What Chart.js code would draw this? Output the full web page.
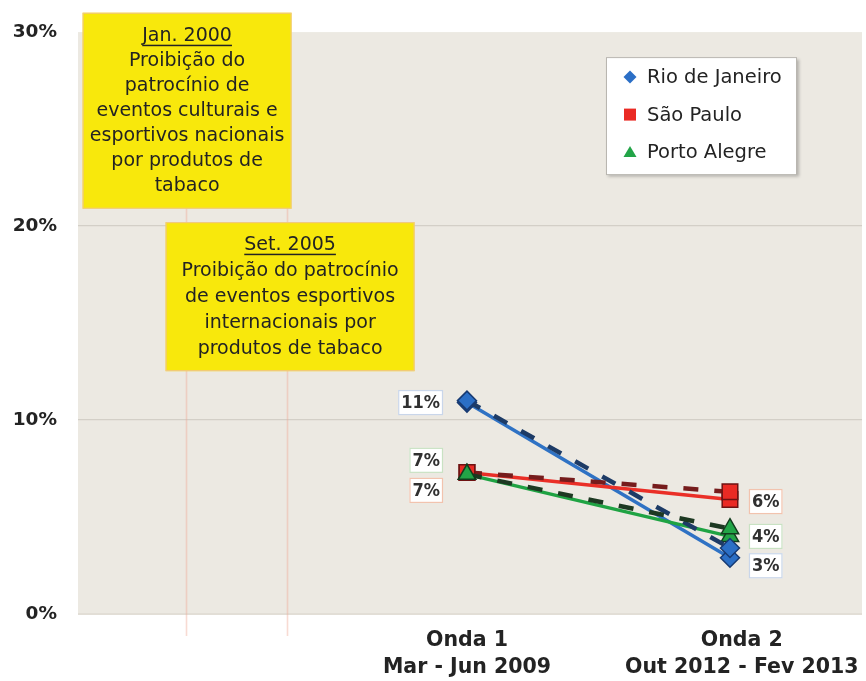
<!DOCTYPE html>
<html>
<head>
<meta charset="utf-8">
<script src="https://cdn.jsdelivr.net/npm/chart.js@4/dist/chart.umd.min.js"></script>
<style>
  html, body { margin: 0; padding: 0; background: #ffffff; }
  #wrap { width: 866px; height: 681px; position: relative; }
</style>
</head>
<body>
<div id="wrap"><canvas id="c"></canvas></div>
<script>
// ---- data ----
const waves = [['Onda 1', 'Mar - Jun 2009'], ['Onda 2', 'Out 2012 - Fev 2013']];
const cities = ['Rio de Janeiro', 'São Paulo', 'Porto Alegre'];
const rioValues = [10.9, 2.9];
const spValues = [7.3, 5.9];
const paValues = [7.2, 4.0];
const rioTrend = [11.0, 3.4];
const spTrend = [7.3, 6.3];
const paTrend = [7.2, 4.4];
const yTicks = [0, 10, 20, 30];
const event1Title = 'Jan. 2000';
const event1Text = ['Proibição do', 'patrocínio de', 'eventos culturais e', 'esportivos nacionais', 'por produtos de', 'tabaco'];
const event2Title = 'Set. 2005';
const event2Text = ['Proibição do patrocínio', 'de eventos esportivos', 'internacionais por', 'produtos de tabaco'];

// ---- look ----
const FONT = '"DejaVu Sans", Verdana, sans-serif';
const FONT_NARROW = '"DejaVu Sans Condensed", "DejaVu Sans", sans-serif';
const INK = '#232323';
const palette = {
  rio: { line: '#2f72c4', fill: '#2b6fc6', edge: '#173a72', dash: '#1d3b66', tag: '#c9d6ea' },
  sp:  { line: '#ea2f27', fill: '#ea2a24', edge: '#6e1212', dash: '#761c1c', tag: '#f2c3ae' },
  pa:  { line: '#1fa343', fill: '#22a447', edge: '#123d1e', dash: '#1d3922', tag: '#c9e2c3' }
};

// wave positions on the horizontal value axis
const waveX = [1, 2];
const waveLabelX = [1, 2.045];
const X_MIN = -0.479, X_MAX = 2.502;

// timeline notes: axis position, box top (in %), box width (px), line height (px)
const notes = [
  { x: -0.068, shift: 1, top: 31.0, width: 209, lh: 25, pad: 10.5, title: event1Title, text: event1Text },
  { x: 0.316, shift: 3, top: 20.2, width: 249, lh: 26, pad: 9.5, title: event2Title, text: event2Text }
];

// value tag vertical nudges (px), per wave
const tagNudge = {
  rio: [0, 8],
  sp: [18, 2],
  pa: [-14, 0]
};

function pts(vals) { return vals.map((v, i) => ({ x: waveX[i], y: v })); }
function radiusFor(style) { return style === 'rect' ? 11 : (style === 'triangle' ? 10 : 9.5); }

function solid(label, vals, p, style, key, order) {
  return {
    label, data: pts(vals), key,
    borderColor: p.line, backgroundColor: p.fill,
    borderWidth: 3.5,
    pointStyle: style, pointRadius: radiusFor(style),
    pointBackgroundColor: p.fill, pointBorderColor: p.edge, pointBorderWidth: 1.5,
    tension: 0, order
  };
}
function trend(vals, p, style, order) {
  return {
    label: '', data: pts(vals), trend: true,
    borderColor: p.dash, borderWidth: 4.5, borderDash: [15, 16],
    pointStyle: style, pointRadius: radiusFor(style),
    pointBackgroundColor: p.fill, pointBorderColor: p.edge, pointBorderWidth: 1.5,
    tension: 0, order
  };
}

const datasets = [
  solid(cities[0], rioValues, palette.rio, 'rectRot', 'rio', 5),
  solid(cities[1], spValues, palette.sp, 'rect', 'sp', 4),
  solid(cities[2], paValues, palette.pa, 'triangle', 'pa', 3),
  trend(rioTrend, palette.rio, 'rectRot', 2),
  trend(spTrend, palette.sp, 'rect', 1),
  trend(paTrend, palette.pa, 'triangle', 0)
];

// ---- plugins ----
const plotBackground = {
  id: 'plotBackground',
  beforeDraw(chart) {
    const { ctx, chartArea: a } = chart;
    ctx.save();
    ctx.fillStyle = '#ECE9E2';
    ctx.fillRect(a.left, a.top, a.right - a.left, a.bottom - a.top);
    ctx.fillStyle = '#E2DED6';
    ctx.fillRect(a.left, a.bottom - 1, a.right - a.left, 2);
    ctx.restore();
  }
};

const timeline = {
  id: 'timeline',
  beforeDatasetsDraw(chart) {
    const { ctx, chartArea: a, scales } = chart;
    ctx.save();
    ctx.strokeStyle = 'rgba(238,170,150,0.42)';
    ctx.lineWidth = 1.6;
    notes.forEach(n => {
      const x = Math.round(scales.x.getPixelForValue(n.x)) + 0.5;
      ctx.beginPath();
      ctx.moveTo(x, a.top);
      ctx.lineTo(x, a.bottom + 22);
      ctx.stroke();
    });
    ctx.restore();
  },
  afterDraw(chart) {
    const { ctx, scales } = chart;
    ctx.save();
    notes.forEach(n => {
      const cx = scales.x.getPixelForValue(n.x) + n.shift;
      const top = scales.y.getPixelForValue(n.top);
      const lines = [n.title].concat(n.text);
      const h = n.pad * 2 + lines.length * n.lh;
      const left = cx - n.width / 2;
      ctx.fillStyle = '#F8E80C';
      ctx.fillRect(left, top, n.width, h);
      ctx.strokeStyle = '#F0C48E';
      ctx.lineWidth = 1;
      ctx.strokeRect(left + 0.5, top + 0.5, n.width - 1, h - 1);
      ctx.fillStyle = INK;
      ctx.textAlign = 'center';
      ctx.textBaseline = 'middle';
      ctx.font = '19px ' + FONT;
      lines.forEach((t, i) => {
        const y = top + n.pad + n.lh * (i + 0.5);
        ctx.fillText(t, cx, y);
        if (i === 0) {
          const w = ctx.measureText(t).width;
          ctx.fillRect(cx - w / 2, y + 9, w, 1.5);
        }
      });
    });
    ctx.restore();
  }
};

const valueTags = {
  id: 'valueTags',
  afterDatasetsDraw(chart) {
    const { ctx } = chart;
    ctx.save();
    ctx.font = 'bold 18px ' + FONT_NARROW;
    ctx.textBaseline = 'middle';
    ctx.textAlign = 'center';
    chart.data.datasets.forEach((ds, di) => {
      if (ds.trend) return;
      const meta = chart.getDatasetMeta(di);
      const p = palette[ds.key];
      meta.data.forEach((pt, i) => {
        const txt = Math.round(ds.data[i].y) + '%';
        const tw = ctx.measureText(txt).width + 6;
        const th = 25;
        const cy = pt.y + tagNudge[ds.key][i];
        const left = i === 0 ? pt.x - 24 - tw : pt.x + 19;
        ctx.fillStyle = '#ffffff';
        ctx.fillRect(left, cy - th / 2, tw, th);
        ctx.strokeStyle = p.tag;
        ctx.lineWidth = 1.2;
        ctx.strokeRect(left + 0.5, cy - th / 2 + 0.5, tw - 1, th - 1);
        ctx.fillStyle = '#303030';
        ctx.fillText(txt, left + tw / 2, cy + 1);
      });
    });
    ctx.restore();
  }
};

const boxLegend = {
  id: 'boxLegend',
  afterDraw(chart) {
    const { ctx, chartArea: a } = chart;
    const w = 191, h = 118;
    const left = a.right - 65 - w, top = a.top + 25;
    ctx.save();
    ctx.shadowColor = 'rgba(0,0,0,0.25)';
    ctx.shadowBlur = 3;
    ctx.shadowOffsetX = 2;
    ctx.shadowOffsetY = 2;
    ctx.fillStyle = '#ffffff';
    ctx.fillRect(left, top, w, h);
    ctx.shadowColor = 'transparent';
    ctx.strokeStyle = '#b9b6b0';
    ctx.lineWidth = 1;
    ctx.strokeRect(left + 0.5, top + 0.5, w - 1, h - 1);
    ctx.font = '19.5px ' + FONT;
    ctx.textBaseline = 'middle';
    ctx.textAlign = 'left';
    const items = chart.data.datasets.filter(d => !d.trend);
    items.forEach((d, i) => {
      const y = top + 20 + i * 37.5;
      const x = left + 24;
      ctx.fillStyle = d.pointBackgroundColor;
      ctx.beginPath();
      if (d.pointStyle === 'rectRot') {
        ctx.moveTo(x, y - 6.5); ctx.lineTo(x + 6.5, y); ctx.lineTo(x, y + 6.5); ctx.lineTo(x - 6.5, y);
      } else if (d.pointStyle === 'rect') {
        ctx.rect(x - 6, y - 6, 12, 12);
      } else {
        ctx.moveTo(x, y - 6); ctx.lineTo(x + 6.5, y + 5); ctx.lineTo(x - 6.5, y + 5);
      }
      ctx.closePath();
      ctx.fill();
      ctx.fillStyle = INK;
      ctx.fillText(d.label, left + 41, y + 1);
    });
    ctx.restore();
  }
};

new Chart(document.getElementById('c'), {
  type: 'line',
  data: { datasets },
  options: {
    responsive: true,
    maintainAspectRatio: false,
    animation: false,
    layout: { autoPadding: false, padding: { top: 32, right: 4, left: 0, bottom: 0 } },
    plugins: { legend: { display: false }, tooltip: { enabled: false } },
    scales: {
      x: {
        type: 'linear', min: X_MIN, max: X_MAX,
        afterBuildTicks: s => { s.ticks = waveLabelX.map(v => ({ value: v })); },
        afterFit: s => { s.height = 67; s.paddingLeft = 0; s.paddingRight = 0; },
        grid: { display: false, drawTicks: false },
        border: { display: false },
        ticks: {
          autoSkip: false, maxRotation: 0, padding: 13,
          color: INK,
          font: { family: FONT, size: 20.5, weight: 'bold', lineHeight: 1.32 },
          callback: (v, i) => waves[i]
        }
      },
      y: {
        min: yTicks[0], max: yTicks[yTicks.length - 1],
        afterBuildTicks: s => { s.ticks = yTicks.map(v => ({ value: v })); },
        afterFit: s => { s.width = 78; },
        grid: {
          drawTicks: false,
          color: c => (c.tick && (c.tick.value === 10 || c.tick.value === 20)) ? '#D3CFC7' : 'rgba(0,0,0,0)',
          lineWidth: 1.2
        },
        border: { display: false },
        ticks: {
          padding: 21, color: INK,
          font: { family: FONT, size: 18.5, weight: 'bold' },
          callback: v => v + '%'
        }
      }
    }
  },
  plugins: [plotBackground, timeline, valueTags, boxLegend]
});
</script>
</body>
</html>
